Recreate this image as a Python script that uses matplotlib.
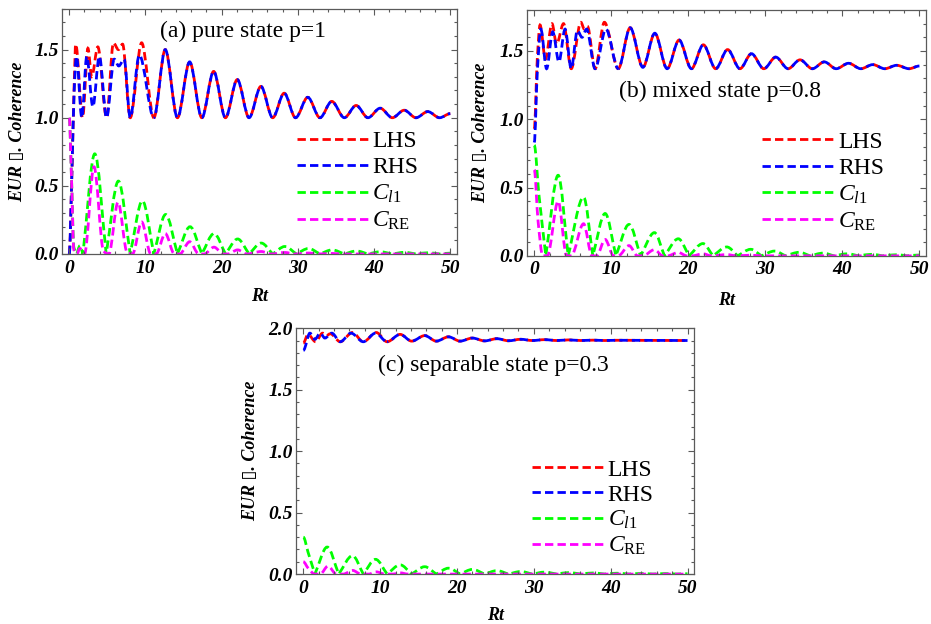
import matplotlib.pyplot as plt
from matplotlib.ticker import MultipleLocator
from matplotlib.path import Path
from matplotlib.patches import PathPatch
from matplotlib.lines import Line2D

plt.rcParams['font.family'] = ['Liberation Serif', 'DejaVu Serif']
plt.rcParams['mathtext.fontset'] = 'custom'
plt.rcParams['mathtext.rm'] = 'Liberation Serif'
plt.rcParams['mathtext.it'] = 'Liberation Serif:italic'

# ---------------- panel (a): pure state p=1 ----------------
a_lhs_t = [0, 0.35, 0.65, 0.85, 1.75, 2.45, 2.95, 3.75, 4.9, 5.8, 6.45, 7.0, 8.0, 9.5, 11.1]
a_lhs_v = [0.0, 0.6, 1.25, 1.54, 1.0, 1.51, 1.30, 1.52, 1.0, 1.55, 1.50, 1.54, 1.0, 1.55, 1.0]
a_rhs_t = [0, 0.35, 0.65, 0.95, 1.65, 2.3, 3.1, 3.95, 4.9, 5.9, 6.5, 7.2, 8.0, 9.2, 11.1]
a_rhs_v = [0.0, 0.6, 1.2, 1.45, 1.0, 1.45, 1.08, 1.45, 1.0, 1.43, 1.38, 1.43, 1.0, 1.46, 1.0]
# LHS and RHS coincide from here on
a_tail_t = [11.1, 12.6, 14.2, 15.8, 17.4, 18.95, 20.5, 22.05, 23.6, 25.15, 26.7, 28.2, 29.7,
            31.3, 32.9, 34.45, 36.1, 37.65, 39.2, 40.8, 42.4, 43.95, 45.5, 47.05, 48.6, 50]
a_tail_v = [1.0, 1.5, 1.0, 1.41, 1.0, 1.34, 1.0, 1.28, 1.0, 1.23, 1.0, 1.18, 1.0,
            1.15, 1.0, 1.12, 1.0, 1.09, 1.0, 1.07, 1.0, 1.055, 1.0, 1.045, 1.0, 1.03]
a_cl1_t = [0, 0.3, 0.6, 1.0, 1.4, 1.8, 3.35, 4.85, 6.45, 8.0, 9.6, 11.1, 12.65, 14.2, 15.85,
           17.4, 19.0, 20.5, 22.1, 23.6, 25.2, 26.7, 28.3, 29.8, 31.4, 32.9, 34.5, 36.1,
           37.7, 39.2, 40.8, 42.4, 44.0, 45.5, 47.1, 48.6, 50]
a_cl1_v = [1.0, 0.55, 0.05, 0.0, 0.06, 0.0, 0.735, 0.0, 0.535, 0.0, 0.39, 0.0, 0.29, 0.0, 0.2,
           0.0, 0.15, 0.0, 0.11, 0.0, 0.08, 0.0, 0.055, 0.0, 0.04, 0.0, 0.03, 0.0,
           0.022, 0.0, 0.016, 0.0, 0.012, 0.0, 0.009, 0.0, 0.006]
a_cre_t = [0, 0.3, 0.6, 1.0, 1.4, 2.0, 3.25, 4.5, 5.2, 6.4, 7.6, 8.3, 9.5, 10.7, 11.4, 12.6,
           13.8, 14.5, 15.8, 17.0, 17.7, 19.0, 20.2, 20.8, 22.1, 23.3, 25.2, 26.5, 28.3,
           29.6, 31.4, 32.7, 34.5, 35.8, 50]
a_cre_v = [1.0, 0.55, 0.03, 0.0, 0.04, 0.0, 0.64, 0.02, 0.0, 0.38, 0.01, 0.0, 0.235, 0.0, 0.0, 0.15,
           0.0, 0.0, 0.09, 0.0, 0.0, 0.05, 0.0, 0.0, 0.03, 0.0, 0.018, 0.0, 0.011,
           0.0, 0.007, 0.0, 0.004, 0.0, 0.0]

# ---------------- panel (b): mixed state p=0.8 ----------------
b_lhs_t = [0, 0.4, 0.75, 1.45, 2.3, 2.9, 3.8, 4.8, 6.05, 6.5, 6.9, 7.9, 9.1, 10.9]
b_lhs_v = [0.93, 1.45, 1.69, 1.44, 1.70, 1.55, 1.70, 1.37, 1.71, 1.66, 1.68, 1.37, 1.71, 1.37]
b_rhs_t = [0, 0.4, 0.85, 1.6, 2.4, 3.2, 4.0, 4.8, 5.6, 6.2, 6.8, 7.9, 9.3, 10.9]
b_rhs_v = [0.83, 1.35, 1.66, 1.37, 1.64, 1.42, 1.66, 1.37, 1.65, 1.60, 1.66, 1.37, 1.66, 1.37]
b_tail_t = [10.9, 12.45, 14.1, 15.65, 17.25, 18.8, 20.4, 21.95, 23.55, 25.1, 26.7, 28.2, 29.8,
            31.35, 32.95, 34.5, 36.1, 37.65, 39.2, 40.8, 42.4, 43.95, 45.5, 47.05, 48.65, 50]
b_tail_v = [1.37, 1.67, 1.38, 1.63, 1.37, 1.58, 1.37, 1.545, 1.37, 1.51, 1.37, 1.48, 1.37,
            1.455, 1.37, 1.435, 1.37, 1.42, 1.37, 1.41, 1.37, 1.40, 1.37, 1.395, 1.37, 1.39]
b_cl1_t = [0, 0.6, 1.5, 3.1, 4.4, 6.4, 7.6, 9.2, 10.6, 12.3, 13.8, 15.6, 16.9, 18.7, 20.1,
           21.9, 23.2, 25.0, 26.4, 28.1, 29.5, 31.2, 32.6, 34.4, 35.8, 37.5, 38.9, 40.7,
           42.1, 43.8, 45.2, 47.0, 48.4, 50]
b_cl1_v = [0.81, 0.45, 0.0, 0.59, 0.0, 0.43, 0.0, 0.31, 0.0, 0.23, 0.0, 0.17, 0.0, 0.125, 0.0,
           0.09, 0.0, 0.065, 0.0, 0.048, 0.0, 0.035, 0.0, 0.026, 0.0, 0.02, 0.0, 0.015,
           0.0, 0.011, 0.0, 0.008, 0.0, 0.006]
b_cre_t = [0, 0.5, 1.1, 1.7, 3.1, 4.2, 4.8, 6.4, 7.5, 8.1, 9.2, 10.3, 10.9, 12.3, 13.4, 14.1,
           15.6, 16.7, 17.3, 18.7, 19.8, 20.5, 21.9, 23.0, 25.0, 26.3, 28.1, 29.5, 50]
b_cre_v = [0.63, 0.25, 0.0, 0.0, 0.40, 0.0, 0.0, 0.235, 0.0, 0.0, 0.12, 0.0, 0.0, 0.075, 0.0, 0.0,
           0.045, 0.0, 0.0, 0.025, 0.0, 0.0, 0.015, 0.0, 0.009, 0.0, 0.005, 0.0, 0.0]

# ---------------- panel (c): separable state p=0.3 ----------------
c_lhs_t = [0, 0.6, 1.6, 2.5, 3.0, 3.5, 4.8, 6.4, 7.8, 9.5, 10.9]
c_lhs_v = [1.88, 1.95, 1.89, 1.96, 1.94, 1.955, 1.89, 1.965, 1.89, 1.965, 1.89]
c_rhs_t = [0, 0.85, 1.5, 2.2, 2.8, 3.7, 4.8, 6.2, 7.8, 9.4, 10.9]
c_rhs_v = [1.82, 1.96, 1.91, 1.96, 1.92, 1.96, 1.89, 1.96, 1.89, 1.96, 1.89]
c_tail_t = [10.9, 12.6, 14.1, 15.8, 17.3, 18.9, 20.4, 22.0, 23.6, 25.2, 26.7, 28.3, 29.8,
            31.4, 33.0, 34.5, 36.1, 37.7, 39.2, 40.8, 50]
c_tail_v = [1.89, 1.95, 1.895, 1.94, 1.895, 1.93, 1.895, 1.92, 1.897, 1.915, 1.898, 1.91, 1.9,
            1.907, 1.9, 1.905, 1.9, 1.903, 1.9, 1.902, 1.9]
c_cl1_t = [0, 0.6, 1.5, 3.1, 4.6, 6.4, 7.8, 9.4, 10.9, 12.6, 14.1, 15.8, 17.3, 18.9, 20.4,
           22.0, 23.6, 25.2, 26.7, 28.3, 29.8, 31.4, 33.0, 34.5, 36.1, 37.7, 39.2, 40.8,
           42.4, 44.0, 45.5, 47.1, 48.6, 50]
c_cl1_v = [0.30, 0.18, 0.0, 0.22, 0.0, 0.15, 0.0, 0.12, 0.0, 0.075, 0.0, 0.06, 0.0, 0.048, 0.0,
           0.038, 0.0, 0.028, 0.0, 0.021, 0.0, 0.016, 0.0, 0.012, 0.0, 0.009, 0.0, 0.007,
           0.0, 0.005, 0.0, 0.004, 0.0, 0.003]
c_cre_t = [0, 0.6, 1.5, 2.2, 3.2, 4.3, 5.2, 6.4, 7.5, 8.5, 9.5, 10.6, 11.6, 12.6, 13.6, 50]
c_cre_v = [0.10, 0.05, 0.0, 0.0, 0.065, 0.0, 0.0, 0.03, 0.0, 0.0, 0.018, 0.0, 0.0, 0.01, 0.0, 0.0]

x_ticks = [0, 10, 20, 30, 40, 50]
legend_labels = ['LHS', 'RHS', r'$C_{l\mathrm{1}}$', r'$C_{\mathrm{RE}}$']

DASH = (3.0, 1.5)
LW = 2.0
FRAME = '#5a5a5a'


def smooth_curve(ax, t, v, color, offset=0, cusp_min=False):
    """Draw the read points as a smooth dashed curve (cubic Bezier segments,
    flat at the peaks/troughs, optional sharp cusps at zero minima)."""
    n = len(t)
    secant = [(v[i + 1] - v[i]) / (t[i + 1] - t[i]) for i in range(n - 1)]
    m_in = [0.0] * n
    m_out = [0.0] * n
    for i in range(1, n - 1):
        s0, s1 = secant[i - 1], secant[i]
        if s0 * s1 <= 0:
            if cusp_min and v[i] <= 0.0 and s0 < 0 < s1:
                m_in[i], m_out[i] = s0, s1
        else:
            m = 2 * s0 * s1 / (s0 + s1)
            m_in[i] = m_out[i] = m
    verts = [(t[0], v[0])]
    codes = [Path.MOVETO]
    for i in range(n - 1):
        h = (t[i + 1] - t[i]) / 3.0
        verts += [(t[i] + h, v[i] + m_out[i] * h),
                  (t[i + 1] - h, v[i + 1] - m_in[i + 1] * h),
                  (t[i + 1], v[i + 1])]
        codes += [Path.CURVE4] * 3
    ax.add_patch(PathPatch(Path(verts, codes), fill=False, edgecolor=color, lw=LW,
                           linestyle=(offset, DASH), capstyle='butt'))


def draw_panel(ax, lhs, rhs, tail, cl1, cre, title, title_xy, ymax, y_ticks, legend_xy,
               xlabel_y, ylabel_x, legend_gap=0.2):
    # LHS / RHS: early parts differ, tails overlap (offset dashes so both colours show)
    smooth_curve(ax, lhs[0], lhs[1], 'red')
    smooth_curve(ax, tail[0], tail[1], 'red')
    smooth_curve(ax, rhs[0], rhs[1], 'blue')
    smooth_curve(ax, tail[0], tail[1], 'blue', offset=2.6)
    smooth_curve(ax, cl1[0], cl1[1], '#00ff00', cusp_min=True)
    smooth_curve(ax, cre[0], cre[1], 'magenta')

    ax.set_xlim(-0.95, 50.85)
    ax.set_ylim(0, ymax)

    ax.set_xticks(x_ticks)
    ax.set_xticklabels([str(v) for v in x_ticks], fontweight='bold', fontstyle='italic')
    ax.set_yticks(y_ticks)
    ax.set_yticklabels(['%.1f' % v for v in y_ticks], fontweight='bold', fontstyle='italic')
    ax.xaxis.set_minor_locator(MultipleLocator(2))
    ax.yaxis.set_minor_locator(MultipleLocator(0.1))
    ax.tick_params(which='both', direction='in', top=True, right=True,
                   color=FRAME, width=0.8, labelsize=14, labelcolor='black')
    ax.tick_params(which='major', length=4)
    ax.tick_params(which='minor', length=2.2)
    ax.tick_params(axis='x', pad=4)
    ax.tick_params(axis='y', pad=2.5)
    for s in ax.spines.values():
        s.set_color(FRAME)
        s.set_linewidth(0.9)

    ax.set_xlabel('Rt', fontsize=13, fontweight='bold', fontstyle='italic')
    ax.set_ylabel('EUR \u25af. Coherence', fontsize=13, fontweight='bold', fontstyle='italic')
    ax.xaxis.set_label_coords(0.5, xlabel_y)
    ax.yaxis.set_label_coords(ylabel_x, 0.5)

    ax.text(title_xy[0], title_xy[1], title, transform=ax.transAxes,
            ha='center', va='center', fontsize=17)

    handles = [Line2D([], [], color=c, lw=LW, linestyle=(0, DASH))
               for c in ['red', 'blue', '#00ff00', 'magenta']]
    ax.legend(handles, legend_labels, loc='upper left', bbox_to_anchor=legend_xy,
              frameon=False, fontsize=17, handlelength=3.05, handletextpad=0.15,
              labelspacing=legend_gap, borderpad=0, borderaxespad=0)


fig = plt.figure(figsize=(9.31, 6.24), dpi=100)

ax_a = fig.add_axes([0.0666, 0.593, 0.424, 0.393])
ax_b = fig.add_axes([0.566, 0.590, 0.4286, 0.394])
ax_c = fig.add_axes([0.318, 0.080, 0.4275, 0.394])

draw_panel(ax_a, (a_lhs_t, a_lhs_v), (a_rhs_t, a_rhs_v), (a_tail_t, a_tail_v),
           (a_cl1_t, a_cl1_v), (a_cre_t, a_cre_v),
           '(a) pure state p=1', (0.458, 0.908), 1.8, [0.0, 0.5, 1.0, 1.5],
           (0.595, 0.503), -0.139, -0.091)
draw_panel(ax_b, (b_lhs_t, b_lhs_v), (b_rhs_t, b_rhs_v), (b_tail_t, b_tail_v),
           (b_cl1_t, b_cl1_v), (b_cre_t, b_cre_v),
           '(b) mixed state p=0.8', (0.484, 0.667), 1.8, [0.0, 0.5, 1.0, 1.5],
           (0.59, 0.507), -0.146, -0.095)
draw_panel(ax_c, (c_lhs_t, c_lhs_v), (c_rhs_t, c_rhs_v), (c_tail_t, c_tail_v),
           (c_cl1_t, c_cl1_v), (c_cre_t, c_cre_v),
           '(c) separable state p=0.3', (0.495, 0.85), 2.0, [0.0, 0.5, 1.0, 1.5, 2.0],
           (0.593, 0.468), -0.134, -0.093, legend_gap=0.15)

fig.savefig('out.png', dpi=100)
